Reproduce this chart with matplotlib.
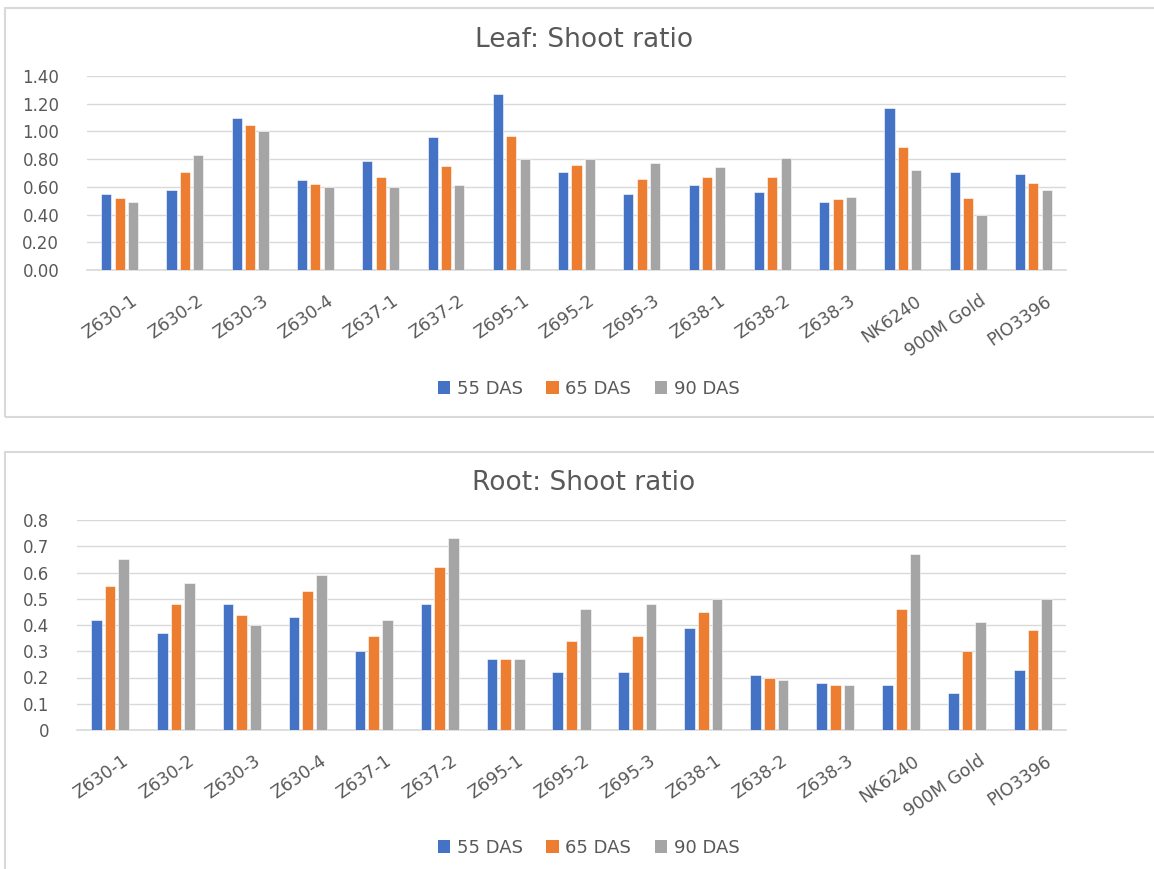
import numpy as np
import matplotlib
matplotlib.use("Agg")
import matplotlib.pyplot as plt
from matplotlib.patches import Rectangle, Patch
from matplotlib.transforms import ScaledTranslation

categories = ["Z630-1", "Z630-2", "Z630-3", "Z630-4", "Z637-1", "Z637-2", "Z695-1",
              "Z695-2", "Z695-3", "Z638-1", "Z638-2", "Z638-3", "NK6240", "900M Gold", "PIO3396"]
series_names = ["55 DAS", "65 DAS", "90 DAS"]

leaf_55 = [0.55, 0.58, 1.10, 0.65, 0.79, 0.96, 1.27, 0.71, 0.55, 0.61, 0.56, 0.49, 1.17, 0.71, 0.69]
leaf_65 = [0.52, 0.71, 1.05, 0.62, 0.67, 0.75, 0.97, 0.76, 0.66, 0.67, 0.67, 0.51, 0.89, 0.52, 0.63]
leaf_90 = [0.49, 0.83, 1.00, 0.60, 0.60, 0.61, 0.80, 0.80, 0.77, 0.74, 0.81, 0.53, 0.72, 0.40, 0.58]

root_55 = [0.42, 0.37, 0.48, 0.43, 0.30, 0.48, 0.27, 0.22, 0.22, 0.39, 0.21, 0.18, 0.17, 0.14, 0.23]
root_65 = [0.55, 0.48, 0.44, 0.53, 0.36, 0.62, 0.27, 0.34, 0.36, 0.45, 0.20, 0.17, 0.46, 0.30, 0.38]
root_90 = [0.65, 0.56, 0.40, 0.59, 0.42, 0.73, 0.27, 0.46, 0.48, 0.50, 0.19, 0.17, 0.67, 0.41, 0.50]

colors = ["#4472C4", "#ED7D31", "#A5A5A5"]
text_col = "#595959"
grid_col = "#D9D9D9"
FONT = "DejaVu Sans"

W, H = 1154, 869
fig = plt.figure(figsize=(W / 100, H / 100), dpi=100)
fig.patch.set_facecolor("white")

# chart-area frames
for (x0, y0, x1, y1) in [(5, 8, 1200, 417), (5, 452, 1200, 900)]:
    fig.patches.append(Rectangle((x0 / W, 1 - y1 / H), (x1 - x0) / W, (y1 - y0) / H,
                                 transform=fig.transFigure, fill=False,
                                 edgecolor=grid_col, linewidth=1.5, zorder=0))


def draw_panel(rect, data, ymax, ystep, fmt, title, title_y, legend_y, pitch, width):
    ax = fig.add_axes(rect)
    x = np.arange(len(categories))
    for i, (vals, c) in enumerate(zip(data, colors)):
        ax.bar(x + (i - 1) * pitch, vals, width=width, color=c, zorder=3,
               edgecolor="white", linewidth=0.4)
    ax.set_xlim(-0.5, len(categories) - 0.5)
    ax.set_ylim(0, ymax)
    ticks = np.arange(0, ymax + ystep / 2, ystep)
    ax.set_yticks(ticks)
    ax.set_yticklabels([fmt.format(t) for t in ticks], fontsize=12, color=text_col,
                       family=FONT)
    ax.yaxis.grid(True, color=grid_col, linewidth=1.0, zorder=0)
    ax.set_axisbelow(True)
    for s in ["top", "right", "left"]:
        ax.spines[s].set_visible(False)
    ax.spines["bottom"].set_color(grid_col)
    ax.spines["bottom"].set_linewidth(1.2)
    ax.tick_params(axis="both", length=0)
    ax.tick_params(axis="y", pad=20)
    ax.set_xticks(x)
    ax.set_xticklabels(categories, rotation=35, ha="right", va="top",
                       rotation_mode="anchor", fontsize=12.5, color=text_col,
                       family=FONT)
    offset = ScaledTranslation(11 / 100, -17 / 100, fig.dpi_scale_trans)
    for lbl in ax.get_xticklabels():
        lbl.set_transform(lbl.get_transform() + offset)
    fig.text(0.506, title_y, title, ha="center", va="center", fontsize=19,
             color=text_col, family=FONT)
    handles = [Patch(facecolor=c, edgecolor="none") for c in colors]
    fig.legend(handles, series_names, loc="center", bbox_to_anchor=(0.51, legend_y),
               ncol=3, frameon=False, labelcolor=text_col,
               handlelength=0.7, handleheight=0.7, handletextpad=0.35,
               columnspacing=1.3, prop={"family": FONT, "size": 13})
    return ax


draw_panel([87 / W, 1 - 270 / H, (1066 - 87) / W, (270 - 76) / H],
           [leaf_55, leaf_65, leaf_90], 1.4, 0.2, "{:.2f}",
           "Leaf: Shoot ratio", 1 - 40 / H, 1 - 389 / H, 0.205, 0.155)

draw_panel([77 / W, 1 - 730 / H, (1066 - 77) / W, (730 - 520) / H],
           [root_55, root_65, root_90], 0.8, 0.1, "{:g}",
           "Root: Shoot ratio", 1 - 483 / H, 1 - 848 / H, 0.208, 0.162)

fig.savefig("out.png", dpi=100, facecolor="white")
